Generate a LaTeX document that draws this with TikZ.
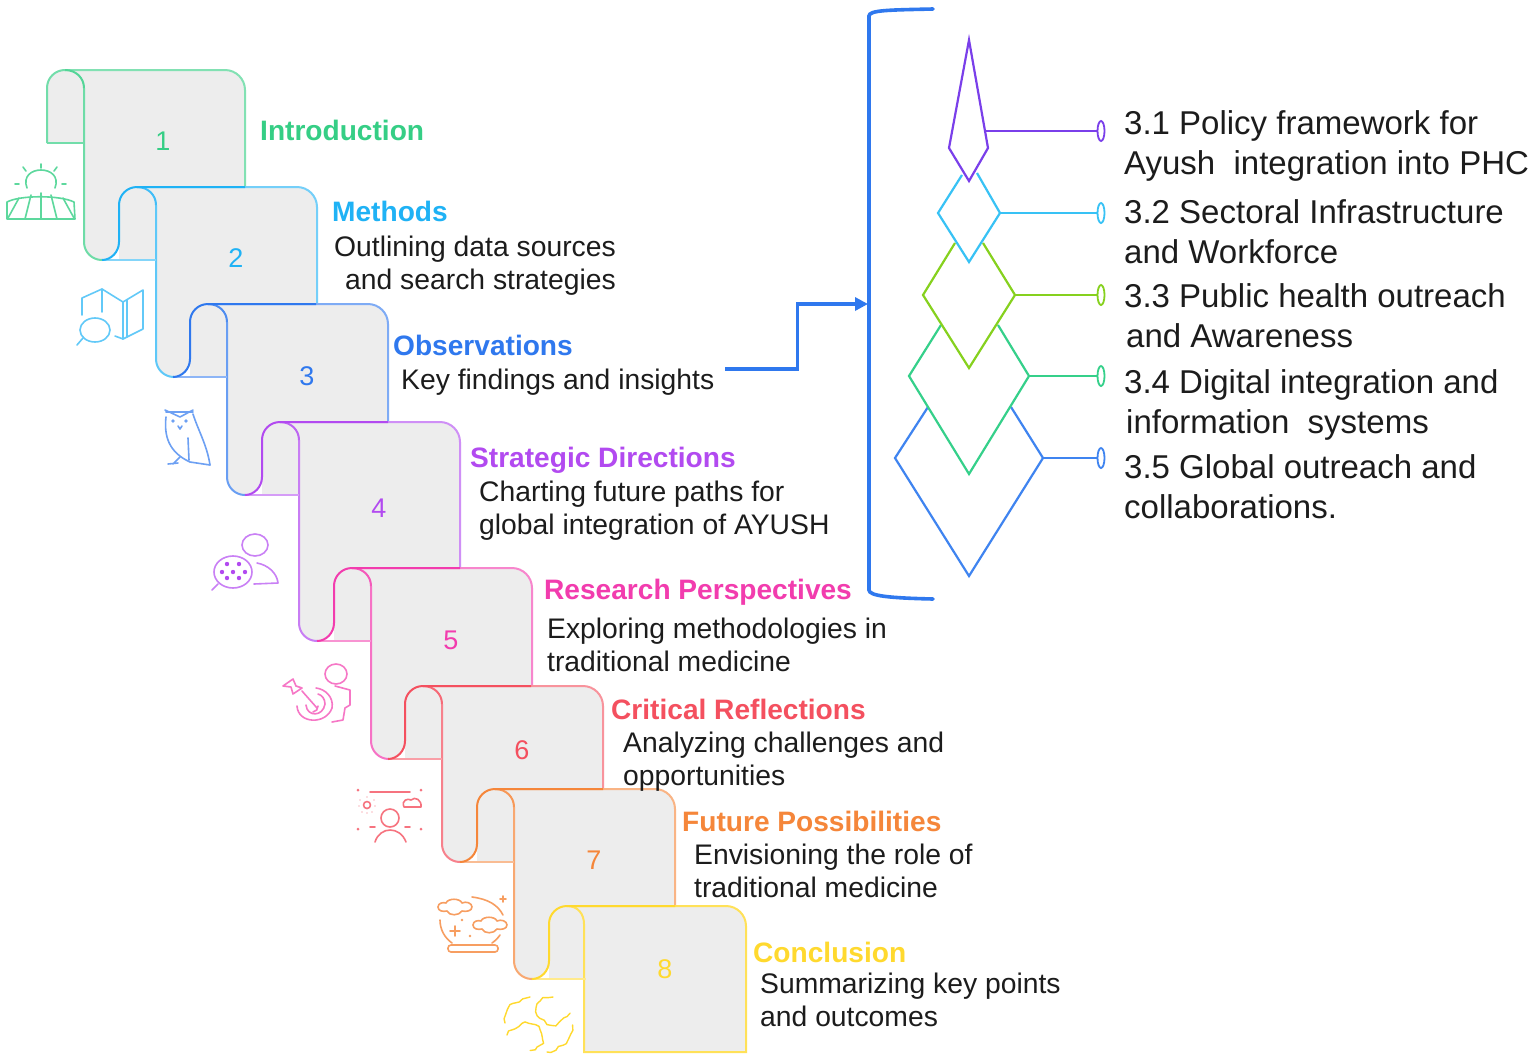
\documentclass[tikz,border=0pt]{standalone}
\usepackage{fontspec}
\setmainfont{Liberation Sans}
\usetikzlibrary{arrows.meta,shapes.geometric,decorations.pathmorphing}
\definecolor{cA}{HTML}{35CE85}
\definecolor{cB}{HTML}{1FB2F5}
\definecolor{cC}{HTML}{2F78EE}
\definecolor{cD}{HTML}{B24AF0}
\definecolor{cE}{HTML}{F23CAE}
\definecolor{cF}{HTML}{F4505F}
\definecolor{cG}{HTML}{F5863A}
\definecolor{cH}{HTML}{FFD92E}
\definecolor{cLime}{HTML}{86D11E}
\definecolor{cViolet}{HTML}{7A3FEA}
\definecolor{cSky}{HTML}{38C2F5}
\definecolor{cTeal}{HTML}{35D08A}
\definecolor{cDia}{HTML}{3F84F0}
\definecolor{panel}{HTML}{EDEDED}
\definecolor{ink}{HTML}{1C1C1C}
\tikzset{
  x=1pt,y=-1pt,
  numlabel/.style={font=\fontsize{27}{30}\selectfont,inner sep=0pt},
  headlabel/.style={font=\fontsize{28.1}{33}\selectfont\bfseries,anchor=west,inner sep=0pt,text height=26pt,text depth=6pt},
  bodylabel/.style={font=\fontsize{28.3}{33}\selectfont,anchor=west,align=left,inner sep=0pt,text=ink},
  sidelabel/.style={font=\fontsize{33}{40}\selectfont,anchor=west,align=left,inner sep=0pt,text=ink},
  tipmark/.style={ellipse,draw,line width=1.8pt,minimum width=7pt,minimum height=20pt,inner sep=0pt},
  dia/.style={line width=2.2pt,line join=miter},
  icon/.style={line width=1.6pt,line cap=round,line join=round},
  jag/.style={icon,line width=1.4pt,decorate,decoration={random steps,amplitude=1.6pt,segment length=4.5pt}}
}
% fold left, top, next top, colour
\newcommand{\scrollstep}[4]{%
  \pgfmathsetmacro{\fL}{#1}\pgfmathsetmacro{\fB}{#1+37}\pgfmathsetmacro{\fR}{#1+198}
  \pgfmathsetmacro{\fN}{#1+72}\pgfmathsetmacro{\fBot}{#3+73}\pgfmathsetmacro{\fT}{#2}
  \fill[panel] (\fL,\fT+73) -- (\fL,\fT+18) .. controls (\fL,\fT+8) and (\fL+8,\fT) .. (\fL+18,\fT)
    -- (\fR-20,\fT) .. controls (\fR-9,\fT) and (\fR,\fT+9) .. (\fR,\fT+20)
    -- (\fR,#3+1) -- (\fN+20,#3+1) -- (\fN+20,#3+20) -- (\fN,#3+20) -- (\fN,\fBot-18)
    .. controls (\fN,\fBot-8) and (\fN-8,\fBot) .. (\fN-17,\fBot)
    .. controls (\fB+8,\fBot) and (\fB,\fBot-8) .. (\fB,\fBot-18)
    -- (\fB,\fT+73) -- cycle;
  % right part and top
  \draw[#4!62!white,line width=2pt] (\fL+18,\fT) -- (\fR-20,\fT)
     .. controls (\fR-9,\fT) and (\fR,\fT+9) .. (\fR,\fT+20) -- (\fR,#3);
  % body left edge
  \draw[#4!72!white,line width=2pt] (\fB,\fT+18) -- (\fB,\fBot-18)
     .. controls (\fB,\fBot-8) and (\fB+8,\fBot) .. (\fN-17,\fBot);
  % fold
  \draw[#4!85!white,line width=2pt] (\fL+18,\fT)
     .. controls (\fL+29,\fT) and (\fB,\fT+8) .. (\fB,\fT+18);
}
\begin{document}
\begin{tikzpicture}
\useasboundingbox (0,0) rectangle (1535,1061);
\fill[white] (0,0) rectangle (1535,1061);
\pgfmathsetseed{7}

% ---- scrolls ----
\newcommand{\foldentry}[3]{% fold left, top, colour
  \draw[#3!55!white,line width=2pt] (#1-17,#2+73) -- (#1+37,#2+73);
  \draw[#3,line width=2pt] (#1-17,#2+73) .. controls (#1-8,#2+73) and (#1,#2+65) .. (#1,#2+55)
     -- (#1,#2+18) .. controls (#1,#2+8) and (#1+8,#2) .. (#1+18,#2) -- (#1+126,#2);
}
\scrollstep{47}{70}{187}{cA}
\draw[cA!70!white,line width=2pt] (47,143) -- (47,88) .. controls (47,78) and (55,70) .. (65,70);
\draw[cA!70!white,line width=2pt] (47,143) -- (84,143);
\scrollstep{119}{187}{304}{cB}\foldentry{119}{187}{cB}
\scrollstep{190}{304}{422}{cC}\foldentry{190}{304}{cC}
\scrollstep{262}{422}{568}{cD}\foldentry{262}{422}{cD}
\scrollstep{334}{568}{686}{cE}\foldentry{334}{568}{cE}
\scrollstep{405}{686}{789}{cF}\foldentry{405}{686}{cF}
\scrollstep{477}{789}{906}{cG}\foldentry{477}{789}{cG}
% last scroll is square at the bottom
\fill[panel] (549,978) -- (549,924) .. controls (549,914) and (557,906) .. (567,906)
   -- (726,906) .. controls (737,906) and (746,915) .. (746,926) -- (746,1052) -- (584,1052) -- (584,978) -- cycle;
\draw[cH!80!white,line width=2pt] (567,906) -- (726,906) .. controls (737,906) and (746,915) .. (746,926)
   -- (746,1052) -- (584,1052) -- (584,924) .. controls (584,914) and (578,906) .. (567,906);
\foldentry{549}{906}{cH}

% ---- step numbers ----
\node[numlabel,text=cA] (n1) at (163,141) {1};
\node[numlabel,text=cB] (n2) at (236,258) {2};
\node[numlabel,text=cC] (n3) at (307,376) {3};
\node[numlabel,text=cD] (n4) at (379,508) {4};
\node[numlabel,text=cE] (n5) at (451,640) {5};
\node[numlabel,text=cF] (n6) at (522,750) {6};
\node[numlabel,text=cG] (n7) at (594,860) {7};
\node[numlabel,text=cH] (n8) at (665,969) {8};

% ---- step texts ----
\node[headlabel,text=cA] (h1) at (260,130) {Introduction};
\node[headlabel,text=cB] (h2) at (332,211) {Methods};
\node[bodylabel] (b2) at (334,266) {Outlining data sources\\\hspace*{11pt}and search strategies};
\node[headlabel,text=cC] (h3) at (393,345) {Observations};
\node[bodylabel] (b3) at (401,382) {Key findings and insights};
\node[headlabel,text=cD] (h4) at (470,457) {Strategic Directions};
\node[bodylabel] (b4) at (479,511) {Charting future paths for\\global integration of AYUSH};
\node[headlabel,text=cE] (h5) at (544,589) {Research Perspectives};
\node[bodylabel] (b5) at (547,645) {Exploring methodologies in\\traditional medicine};
\node[headlabel,text=cF] (h6) at (611,709) {Critical Reflections};
\node[bodylabel] (b6) at (623,762) {Analyzing challenges and\\opportunities};
\node[headlabel,text=cG] (h7) at (682,821) {Future Possibilities};
\node[bodylabel] (b7) at (694,871) {Envisioning the role of\\traditional medicine};
\node[headlabel,text=cH] (h8) at (753,952) {Conclusion};
\node[bodylabel] (b8) at (760,1000) {Summarizing key points\\and outcomes};

% ---- bracket and arrow ----
\coordinate (brTop) at (933,9);
\coordinate (brBot) at (933,599);
\coordinate (brIn) at (868,304);
\draw[cC,line width=3.6pt,line cap=round] (brTop) .. controls (890,10) and (869,10) .. (869,16)
   -- (869,590) .. controls (869,596) and (890,598) .. (brBot);
\draw[cC,line width=3.2pt,-{Triangle[length=13pt,width=13pt]}] (b3.east)+(11,-13) -- ++(83,-13) |- (brIn);

% ---- diamonds ----
\draw[dia,cDia] (928,407) -- (895,458) -- (969,576) -- (1043,458) -- (1011,407);
\draw[dia,cTeal] (941,325) -- (909,376) -- (969,474) -- (1029,376) -- (998,325);
\draw[dia,cLime] (955,243) -- (923,295) -- (969,368) -- (1015,295) -- (983,243);
\draw[dia,cSky] (962,175) -- (938,213) -- (969,262) -- (1000,213) -- (977,173);
\draw[dia,cViolet] (969,40) -- (949,148) -- (969,181) -- (988,148) -- cycle;

% ---- tips and side texts ----
\node[tipmark,draw=cViolet] (t1) at (1101,131) {};
\node[tipmark,draw=cSky] (t2) at (1101,213) {};
\node[tipmark,draw=cLime] (t3) at (1101,295) {};
\node[tipmark,draw=cTeal] (t4) at (1101,376) {};
\node[tipmark,draw=cDia] (t5) at (1101,458) {};
\coordinate (d1) at (986,131);
\coordinate (d2) at (1000,213);
\coordinate (d3) at (1015,295);
\coordinate (d4) at (1029,376);
\coordinate (d5) at (1043,458);
\draw[cViolet,line width=2.2pt] (d1) -- (t1.west);
\draw[cSky,line width=2.2pt] (d2) -- (t2.west);
\draw[cLime,line width=2.2pt] (d3) -- (t3.west);
\draw[cTeal,line width=2.2pt] (d4) -- (t4.west);
\draw[cDia,line width=2.2pt] (d5) -- (t5.west);
\node[sidelabel] (s1) at (1124,146) {3.1 Policy framework for\\Ayush\ \ integration into PHC};
\node[sidelabel] (s2) at (1124,232) {3.2 Sectoral Infrastructure\\and Workforce};
\node[sidelabel] (s3) at (1124,316) {3.3 Public health outreach\\\hspace*{2pt}and Awareness};
\node[sidelabel] (s4) at (1124,405) {3.4 Digital integration and\\\hspace*{2pt}information\ \ systems};
\node[sidelabel] (s5) at (1124,487) {3.5 Global outreach and\\collaborations.};

% ---- icon 1: sun over a field ----
\begin{scope}[icon,cA!80!white]
\draw (27,188) .. controls (18,164) and (64,164) .. (55,188);
\foreach \a/\b/\c/\d in {15/184/19/184,23/167/26/171,41/164/41/168,57/167/54/171,62/184/66/184}
  \draw (\a,\b) -- (\c,\d);
\draw (7,202) .. controls (20,195) and (60,195) .. (74,202) -- (75,219) -- (7,219) -- cycle;
\draw (41,193) -- (41,219) (31,195) -- (25,219) (51,195) -- (57,219) (19,198) -- (8,218) (63,198) -- (74,218);
\end{scope}
% ---- icon 2: map and lens ----
\begin{scope}[icon,cB!70!white]
\draw (82,315) -- (82,298) -- (102,289) -- (123,302) -- (143,290) -- (143,329) -- (123,339) -- (115,336);
\draw (102,289) -- (102,312) (123,302) -- (123,339) (127,300) -- (127,337);
\draw (95,330) ellipse [x radius=15pt,y radius=12pt];
\draw (83,338) -- (77,345);
\end{scope}
% ---- icon 3: owl ----
\begin{scope}[icon,cC!70!white]
\draw (165,410) -- (180,417) -- (193,410) (166,412) -- (193,412);
\draw (166,417) .. controls (164,435) and (168,452) .. (190,462) -- (210,465);
\draw (193,414) .. controls (198,430) and (207,445) .. (210,465);
\draw (188,438) -- (189,460) (180,457) -- (173,464) (168,464) -- (178,463);
\fill (173,421) circle (1.8pt) (186,421) circle (1.8pt);
\draw (178,426) -- (180,429) -- (182,426);
\end{scope}
% ---- icon 4: speech bubble and person ----
\begin{scope}[icon,cD!70!white]
\draw (255,545) ellipse [x radius=13pt,y radius=11pt];
\draw (257,563) .. controls (268,565) and (277,573) .. (278,583) -- (254,584);
\draw (233,572) ellipse [x radius=19pt,y radius=16pt];
\draw (218,584) -- (212,590);
\foreach \p/\q in {227/564,239/564,222/572,233/572,245/572,227/578,239/578}
  \fill[cD] (\p,\q) circle (2.2pt);
\end{scope}
% ---- icon 5: target and person ----
\begin{scope}[icon,cE!70!white]
\draw (336,674) ellipse [x radius=11pt,y radius=10pt];
\draw (335,686) -- (350,690) -- (350,705) -- (345,708) -- (343,720) -- (332,722);
% target rings
\draw (297,706) .. controls (298,724) and (326,725) .. (332,708) .. controls (334,697) and (325,689) .. (316,688);
\draw (306,705) .. controls (307,717) and (323,717) .. (325,704) .. controls (325,699) and (322,695) .. (318,694);
\draw (313,712) .. controls (316,712) and (318,709) .. (318,706);
\draw (317,708) -- (302,691);
\draw (283,686) -- (293,679) -- (296,686) -- (302,688) -- (293,694) -- (291,687) -- cycle;
\end{scope}
% ---- icon 6: face with sun and cloud ----
\begin{scope}[icon,cF!80!white]
\draw (370,792) -- (410,792);
\fill (358,790) circle (1.5pt) (421,790) circle (1.5pt) (358,829) circle (1.5pt) (421,829) circle (1.5pt);
\draw (367,805) circle (3.5pt);
\foreach \p/\q in {360/800,374/800,359/806,375/806,362/812,372/812,367/797,367/813}
  \fill (\p,\q) circle (.7pt);
\draw (404,807) .. controls (401,800) and (408,798) .. (411,800) .. controls (415,796) and (422,800) .. (421,807) -- cycle;
\draw (390,818) circle (9pt);
\draw (375,842) .. controls (380,826) and (400,826) .. (406,842);
\draw (370,827) -- (375,827) (405,827) -- (410,827);
\end{scope}
% ---- icon 7: crystal ball ----
\newcommand{\puff}[2]{%
  \draw (#1-17,#2) .. controls (#1-17,#2-4) and (#1-12,#2-5) .. (#1-9,#2-4)
    .. controls (#1-7,#2-9) and (#1+5,#2-9) .. (#1+7,#2-4)
    .. controls (#1+11,#2-6) and (#1+17,#2-4) .. (#1+17,#2)
    .. controls (#1+17,#2+4) and (#1+11,#2+5) .. (#1+7,#2+4)
    .. controls (#1+4,#2+9) and (#1-6,#2+9) .. (#1-8,#2+4)
    .. controls (#1-12,#2+5) and (#1-17,#2+4) .. (#1-17,#2) -- cycle;}
\begin{scope}[icon,cG!80!white]
\puff{455}{907}
\puff{490}{925}
\draw (472,897) .. controls (488,899) and (498,905) .. (503,915);
\draw (440,920) .. controls (440,930) and (445,938) .. (452,943);
\draw (500,935) .. controls (498,938) and (495,941) .. (492,943);
\draw[rounded corners=3pt] (448,945) rectangle (498,952);
\draw (450,931) -- (460,931) (455,926) -- (455,936);
\draw (500,899) -- (506,899) (503,896) -- (503,902);
\fill (462,920) circle (1.3pt) (470,936) circle (1.3pt);
\end{scope}
% ---- icon 8: jagged hands ----
\begin{scope}[cH]
\draw[jag] (505,1023) .. controls (503,1008) and (515,1003) .. (530,997);
\draw[jag] (553,997) .. controls (535,998) and (530,1012) .. (540,1018) .. controls (547,1025) and (555,1030) .. (570,1013);
\draw[jag] (507,1035) .. controls (515,1025) and (530,1018) .. (540,1030) .. controls (546,1040) and (540,1048) .. (530,1050);
\draw[jag] (547,1052) .. controls (560,1048) and (575,1042) .. (572,1025);
\end{scope}
\end{tikzpicture}
\end{document}
